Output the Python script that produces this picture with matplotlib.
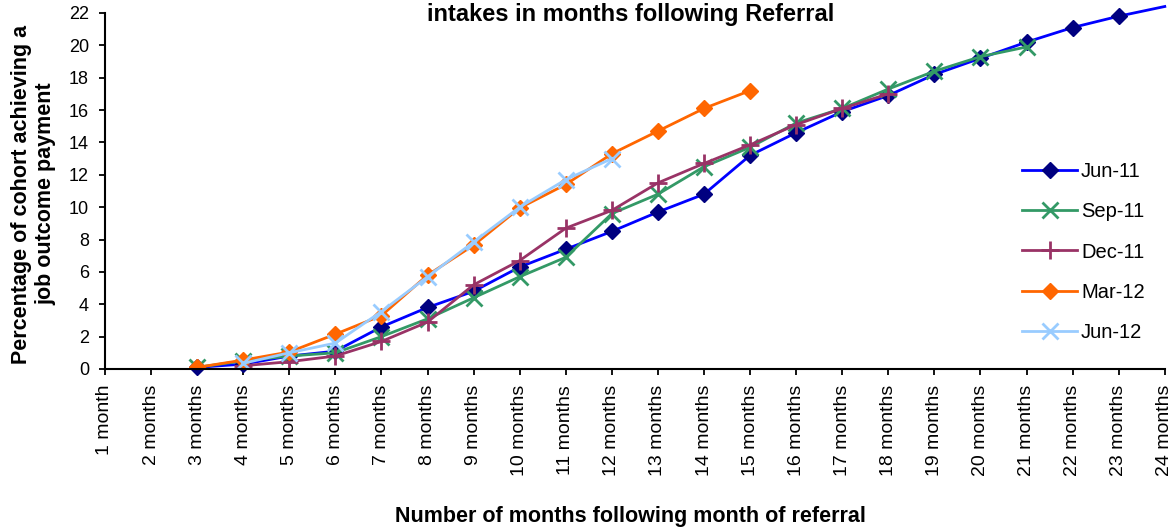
import matplotlib.pyplot as plt

plt.rcParams['font.family'] = ['Liberation Sans', 'DejaVu Sans']

# Months following referral (category labels)
months = ['1 month'] + [f'{m} months' for m in range(2, 25)]

# Percentage of cohort achieving a job outcome payment, per intake
# (starting at month 3 or 4)
jun11 = [None, None, 0.1, 0.3, 0.8, 1.1, 2.6, 3.8, 4.8, 6.3, 7.4, 8.5, 9.7,
         10.8, 13.2, 14.6, 15.9, 16.9, 18.2, 19.2, 20.2, 21.1, 21.8, 22.4]
sep11 = [None, None, 0.1, 0.5, 0.8, 1.0, 2.0, 3.1, 4.4, 5.7, 6.9, 9.6, 10.8,
         12.5, 13.7, 15.2, 16.1, 17.3, 18.4, 19.3, 19.9]
dec11 = [None, None, None, 0.2, 0.45, 0.8, 1.7, 2.9, 5.2, 6.7, 8.7, 9.8, 11.5,
         12.7, 13.85, 15.1, 16.1, 17.0]
mar12 = [None, None, 0.1, 0.55, 1.05, 2.15, 3.3, 5.8, 7.65, 9.95, 11.4, 13.3,
         14.7, 16.1, 17.2]
jun12 = [None, None, None, 0.35, 1.0, 1.6, 3.55, 5.7, 7.85, 10.0, 11.7, 13.0]


def xs_ys(vals):
    xs = [i for i, v in enumerate(vals) if v is not None]
    ys = [v for v in vals if v is not None]
    return xs, ys


fig = plt.figure(figsize=(11.73, 5.29), dpi=100)
ax = fig.add_axes([0.0895, 0.3025, 0.9035, 0.673])

x, y = xs_ys(jun11)
ax.plot(x, y, color='#0000FF', lw=2, marker='D', ms=8.5, mfc='#000080',
        mec='#000080', label='Jun-11', clip_on=False,
        markevery=list(range(len(x) - 1)))
x, y = xs_ys(sep11)
ax.plot(x, y, color='#339966', lw=2, marker='x', ms=11, mew=2,
        label='Sep-11')
x, y = xs_ys(dec11)
ax.plot(x, y, color='#993366', lw=2, marker='+', ms=13, mew=2,
        label='Dec-11')
x, y = xs_ys(mar12)
ax.plot(x, y, color='#FF6600', lw=2, marker='D', ms=8.5, label='Mar-12')
x, y = xs_ys(jun12)
ax.plot(x, y, color='#99CCFF', lw=2, marker='x', ms=11, mew=2,
        label='Jun-12')

ax.set_xlim(0, len(months) - 1)
ax.set_ylim(0, 22)
ax.set_yticks(range(0, 23, 2))
ax.set_xticks(range(len(months)))
ax.set_xticklabels(months, rotation=90, fontsize=14)
ax.tick_params(axis='y', labelsize=13, direction='out', length=4, width=1.3,
               pad=7.5)
ax.tick_params(axis='x', direction='out', length=4, width=1.3, pad=7.5)
for s in ['top', 'right']:
    ax.spines[s].set_visible(False)
for s in ['left', 'bottom']:
    ax.spines[s].set_linewidth(1.5)

fig.text(34 / 1173, 1 - 194 / 529,
         'Percentage of cohort achieving a\njob outcome payment',
         rotation=90, ha='center', va='center', multialignment='center',
         fontsize=15.5, fontweight='bold')
ax.set_xlabel('Number of months following month of referral',
              fontsize=15.5, fontweight='bold')
ax.xaxis.set_label_coords(0.496, -0.385)

fig.text(631 / 1173, 1 - 2.5 / 529, 'intakes in months following Referral',
         ha='center', va='top', fontsize=17, fontweight='bold')

ax.legend(loc='center left', bbox_to_anchor=(1012 / 1173, 1 - 252 / 529),
          bbox_transform=fig.transFigure, frameon=False, borderpad=0,
          fontsize=14.5, handlelength=2.73, labelspacing=1.05,
          handletextpad=0.2)

fig.savefig('out.png', dpi=100)
